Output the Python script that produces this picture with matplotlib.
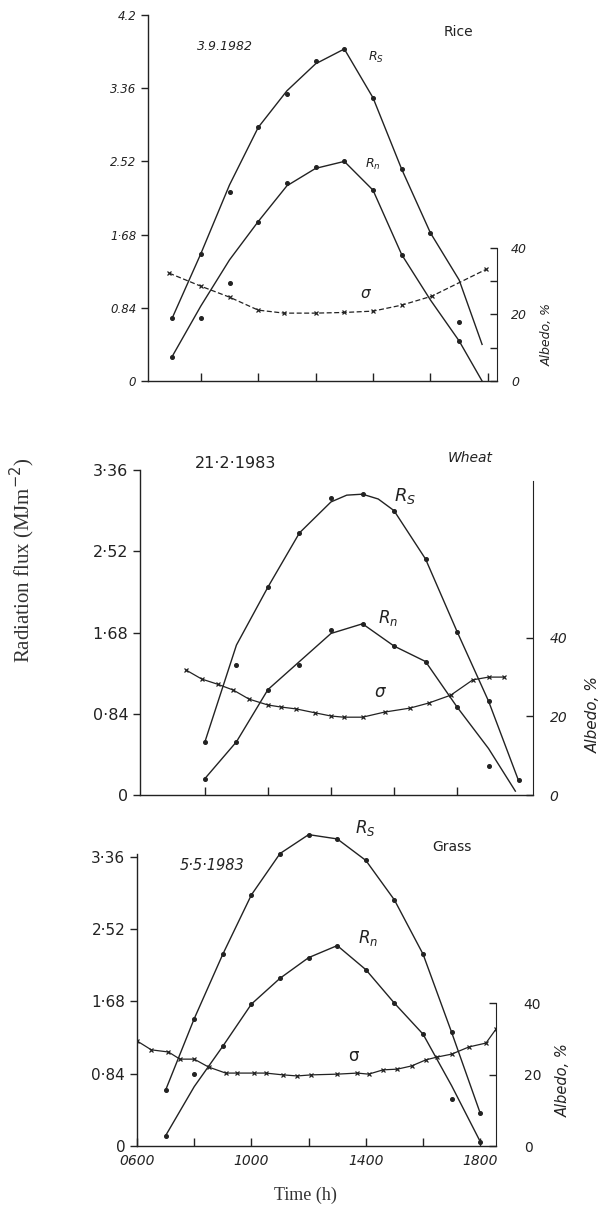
import matplotlib
matplotlib.use('Agg')
import matplotlib.pyplot as plt
from matplotlib.ticker import FixedLocator, FixedFormatter

W, H = 610, 1217
INK = '#222222'

# ---- Rice, 3.9.1982 ----
rice_rs_h = [7, 8, 9, 10, 11, 12, 13, 14, 15, 16, 17]
rice_rs_obs = [0.72, 1.46, 2.17, 2.91, 3.29, 3.67, 3.81, 3.25, 2.43, 1.70, 0.68]
rice_rs_line_h = [7, 8, 9, 10, 11, 12, 13, 14, 15, 16, 17, 17.8]
rice_rs_line = [0.72, 1.46, 2.25, 2.91, 3.33, 3.64, 3.81, 3.25, 2.43, 1.70, 1.16, 0.42]
rice_rn_h = [7, 8, 9, 10, 11, 12, 13, 14, 15, 17]
rice_rn_obs = [0.28, 0.72, 1.12, 1.83, 2.27, 2.46, 2.52, 2.19, 1.45, 0.46]
rice_rn_line_h = [7, 8, 9, 10, 11, 12, 13, 14, 15, 16, 17, 17.8]
rice_rn_line = [0.28, 0.86, 1.39, 1.83, 2.24, 2.44, 2.52, 2.19, 1.45, 0.93, 0.46, 0.0]
rice_alb_h = [6.9, 8, 9, 10, 10.9, 12, 13, 14, 15, 16.05, 17.95]
rice_alb = [32.4, 28.5, 25.2, 21.3, 20.4, 20.4, 20.6, 21.0, 22.8, 25.5, 33.6]

# ---- Wheat, 21.2.1983 ----
wheat_h = [8, 9, 10, 11, 12, 13, 14, 15, 16, 17, 17.95]
wheat_rs_obs = [0.55, 1.34, 2.15, 2.71, 3.07, 3.11, 2.94, 2.44, 1.69, 0.97, 0.15]
wheat_rs_line_h = [8, 9, 10, 11, 12, 12.5, 13, 13.5, 14, 15, 16, 17, 17.95]
wheat_rs_line = [0.55, 1.55, 2.15, 2.71, 3.03, 3.10, 3.11, 3.06, 2.94, 2.44, 1.69, 0.97, 0.15]
wheat_rn_h = [8, 9, 10, 11, 12, 13, 14, 15, 16, 17]
wheat_rn_obs = [0.17, 0.55, 1.09, 1.34, 1.71, 1.77, 1.54, 1.38, 0.91, 0.30]
wheat_rn_line_h = [8, 9, 10, 11, 12, 13, 14, 15, 16, 17, 17.85]
wheat_rn_line = [0.17, 0.55, 1.09, 1.38, 1.67, 1.77, 1.54, 1.38, 0.91, 0.48, 0.04]
wheat_alb_h = [7.4, 7.9, 8.4, 8.9, 9.4, 10.0, 10.4, 10.9, 11.5, 12.0, 12.4, 13.0,
               13.7, 14.5, 15.1, 15.8, 16.5, 17.0, 17.5]
wheat_alb = [31.8, 29.5, 28.2, 26.7, 24.4, 22.9, 22.4, 21.9, 20.9, 20.1, 19.8, 19.8,
             21.1, 22.1, 23.4, 25.4, 29.3, 30.0, 30.0]

# ---- Grass, 5.5.1983 ----
grass_h = [7, 8, 9, 10, 11, 12, 13, 14, 15, 16, 17, 18]
grass_rs_obs = [0.65, 1.48, 2.23, 2.92, 3.40, 3.62, 3.57, 3.32, 2.86, 2.23, 1.32, 0.38]
grass_rn_obs = [0.12, 0.84, 1.16, 1.65, 1.95, 2.19, 2.33, 2.05, 1.66, 1.30, 0.55, 0.05]
grass_rn_line = [0.12, 0.69, 1.16, 1.65, 1.95, 2.19, 2.33, 2.05, 1.66, 1.30, 0.70, 0.05]
grass_alb_h = [6.0, 6.5, 7.1, 7.5, 8.0, 8.5, 9.1, 9.5, 10.1, 10.5, 11.1, 11.6, 12.1,
               13.0, 13.7, 14.1, 14.6, 15.1, 15.6, 16.1, 16.5, 17.0, 17.6, 18.2, 18.55]
grass_alb = [29.4, 26.9, 26.3, 24.3, 24.3, 22.1, 20.4, 20.4, 20.4, 20.4, 19.9, 19.6, 19.9,
             20.1, 20.4, 20.1, 21.3, 21.5, 22.4, 24.1, 24.9, 25.7, 27.7, 28.8, 32.7]

flux_ticks = [0, 0.84, 1.68, 2.52, 3.36]
flux_labels = ['0', '0·84', '1·68', '2·52', '3·36']

fig = plt.figure(figsize=(W / 100, H / 100), dpi=100)


def label(x, y, s, size, **kw):
    # place text by pixel position measured on the reference
    fig.text(x / W, 1 - y / H, s, fontsize=size, color=INK, ha='center', va='center', **kw)


def panel(l, r, t, b, xlim, ylim, alb_top):
    ax = fig.add_axes([l / W, 1 - b / H, (r - l) / W, (b - t) / H])
    ax.set_xlim(*xlim)
    ax.set_ylim(*ylim)
    for s in ('top', 'right'):
        ax.spines[s].set_visible(False)
    for s in ('left', 'bottom'):
        ax.spines[s].set_color(INK)
        ax.spines[s].set_linewidth(1.0)
    ax.tick_params(axis='y', direction='out', length=5, width=1, color=INK, labelcolor=INK)
    ax.tick_params(axis='x', direction='in', length=6, width=1, color=INK, labelcolor=INK)
    ax2 = ax.twinx()
    ax2.set_ylim(0, alb_top)
    for s in ('top', 'left', 'bottom'):
        ax2.spines[s].set_visible(False)
    ax2.spines['right'].set_color(INK)
    ax2.tick_params(axis='y', direction='in', length=5, width=1, color=INK, labelcolor=INK)
    ax.patch.set_visible(False)
    return ax, ax2


def curves(ax, ax2, rs_lh, rs_l, rs_h, rs_o, rn_lh, rn_l, rn_h, rn_o, ah, a, ls='-'):
    ax.plot(rs_lh, rs_l, color=INK, lw=1.0)
    ax.plot(rs_h, rs_o, 'o', color=INK, ms=2.6)
    ax.plot(rn_lh, rn_l, color=INK, lw=1.0)
    ax.plot(rn_h, rn_o, 'o', color=INK, ms=2.6)
    ax2.plot(ah, a, color=INK, lw=0.9, ls=ls, marker='x', ms=3.5, mew=0.9)


# Rice
ax, ax2 = panel(148, 497, 15, 381, (6.16, 18.32), (0, 4.2), 110)
curves(ax, ax2, rice_rs_line_h, rice_rs_line, rice_rs_h, rice_rs_obs,
       rice_rn_line_h, rice_rn_line, rice_rn_h, rice_rn_obs, rice_alb_h, rice_alb, ls=(0, (4, 2)))
ax.yaxis.set_major_locator(FixedLocator([0, 0.84, 1.68, 2.52, 3.36, 4.2]))
ax.yaxis.set_major_formatter(FixedFormatter(['0', '0.84', '1·68', '2.52', '3.36', '4.2']))
ax.set_xticks([8, 10, 12, 14, 16, 18])
ax.set_xticklabels([])
for t in ax.get_yticklabels():
    t.set_fontsize(8.5)
    t.set_fontstyle('italic')
ax2.spines['right'].set_bounds(0, 40)
ax2.yaxis.set_major_locator(FixedLocator([0, 10, 20, 30, 40]))
ax2.yaxis.set_major_formatter(FixedFormatter(['0', '', '20', '', '40']))
ax2.tick_params(axis='y', pad=10)
for t in ax2.get_yticklabels():
    t.set_fontsize(9)
    t.set_fontstyle('italic')
label(547, 335, 'Albedo, %', 9, rotation=90, fontstyle='italic')
label(225, 47, '3.9.1982', 9, fontstyle='italic')
label(458, 32, 'Rice', 10)
label(376, 57, '$R_S$', 9)
label(373, 164, '$R_n$', 9)
label(365, 293, 'σ', 11, fontstyle='italic')

# Wheat
ax, ax2 = panel(140, 533, 470, 795, (5.94, 18.41), (0, 3.36), 82.7)
curves(ax, ax2, wheat_rs_line_h, wheat_rs_line, wheat_h, wheat_rs_obs,
       wheat_rn_line_h, wheat_rn_line, wheat_rn_h, wheat_rn_obs, wheat_alb_h, wheat_alb)
ax.yaxis.set_major_locator(FixedLocator(flux_ticks))
ax.yaxis.set_major_formatter(FixedFormatter(flux_labels))
ax.set_xticks([8, 10, 12, 14, 16])
ax.set_xticklabels([])
for t in ax.get_yticklabels():
    t.set_fontsize(11.5)
ax2.spines['right'].set_bounds(0, 80)
ax2.yaxis.set_major_locator(FixedLocator([0, 20, 40]))
ax2.yaxis.set_major_formatter(FixedFormatter(['0', '20', '40']))
ax2.tick_params(axis='y', pad=12)
for t in ax2.get_yticklabels():
    t.set_fontsize(10)
    t.set_fontstyle('italic')
label(593, 715, 'Albedo, %', 11, rotation=90, fontstyle='italic')
label(236, 464, '21·2·1983', 11.5)
label(470, 458, 'Wheat', 10, fontstyle='italic')
label(405, 496, '$R_S$', 13)
label(388, 618, '$R_n$', 12)
label(380, 692, 'σ', 12, fontstyle='italic')

# Grass
ax, ax2 = panel(137, 496, 820, 1146, (6.0, 18.55), (0, 3.79), 91.2)
curves(ax, ax2, grass_h, grass_rs_obs, grass_h, grass_rs_obs,
       grass_h, grass_rn_line, grass_h, grass_rn_obs, grass_alb_h, grass_alb)
ax.spines['left'].set_bounds(0, 3.40)
ax.yaxis.set_major_locator(FixedLocator(flux_ticks))
ax.yaxis.set_major_formatter(FixedFormatter(flux_labels))
ax.set_xticks([6, 8, 10, 12, 14, 16, 18])
ax.set_xticklabels(['0600', '', '1000', '', '1400', '', '1800'], fontsize=10, fontstyle='italic')
ax.tick_params(axis='x', pad=6)
for t in ax.get_yticklabels():
    t.set_fontsize(11)
ax2.spines['right'].set_bounds(0, 40)
ax2.yaxis.set_major_locator(FixedLocator([0, 20, 40]))
ax2.yaxis.set_major_formatter(FixedFormatter(['0', '20', '40']))
ax2.tick_params(axis='y', pad=20)
for t in ax2.get_yticklabels():
    t.set_fontsize(10)
label(563, 1080, 'Albedo, %', 10.5, rotation=90, fontstyle='italic')
label(212, 865, '5·5·1983', 10.5, fontstyle='italic')
label(452, 847, 'Grass', 10)
label(365, 828, '$R_S$', 12)
label(368, 938, '$R_n$', 12)
label(353, 1056, 'σ', 12)

serif = ['Liberation Serif', 'DejaVu Serif']
fig.text(22 / W, 1 - 560 / H, 'Radiation flux (MJm$^{-2}$)', rotation=90, fontsize=15,
         family=serif, color='#333333', ha='center', va='center')
fig.text(305 / W, 1 - 1195 / H, 'Time (h)', fontsize=13, family=serif, color='#333333',
         ha='center', va='center')

fig.savefig('out.png', dpi=100)
